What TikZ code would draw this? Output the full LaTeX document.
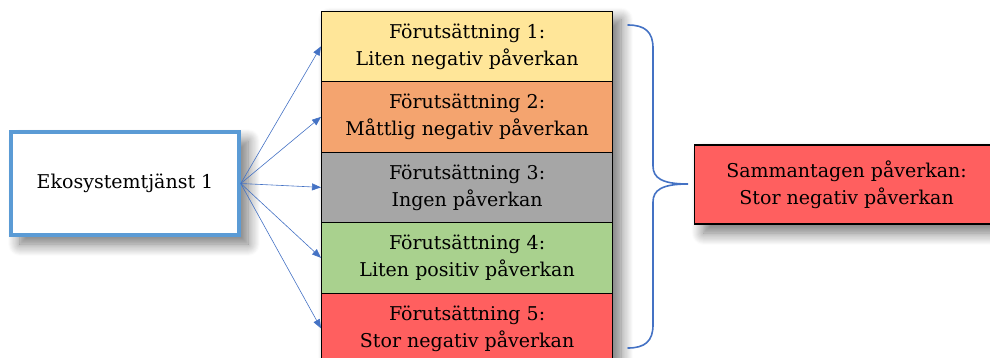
\documentclass[tikz,border=0pt]{standalone}
\usepackage{fontspec}
\setmainfont{DejaVu Serif}
\usetikzlibrary{arrows.meta,shadows.blur}
\definecolor{cyel}{HTML}{FFE699}
\definecolor{corg}{HTML}{F4A46F}
\definecolor{cgry}{HTML}{A6A6A6}
\definecolor{cgrn}{HTML}{A9D18E}
\definecolor{cred}{HTML}{FF5F5F}
\definecolor{cblue}{HTML}{5B9BD5}
\definecolor{carrow}{HTML}{4472C4}
\tikzset{
  x=1pt, y=-1pt,
  txt/.style={font=\fontsize{19}{27}\selectfont},
  softshadow/.style={blur shadow={shadow xshift=9pt, shadow yshift=-9pt, shadow blur radius=12pt, shadow blur steps=12, shadow opacity=55}},
  rowbox/.style={draw=black, line width=1.2pt, minimum width=291pt, minimum height=70.5pt, inner sep=0pt, align=center, anchor=north west, txt},
  conn/.style={draw=carrow, line width=0.6pt, -{Triangle[length=9pt,width=7pt]}},
}
\begin{document}
\begin{tikzpicture}
\useasboundingbox (0,0) rectangle (990,357);
\clip (0,0) rectangle (990,357);
% source box
\node[draw=cblue, line width=3.5pt, fill=white, minimum width=228pt, minimum height=103pt, softshadow, txt] (eko) at (125,183.5) {Ekosystemtjänst 1};
% stack shadow
\fill[white, softshadow] (321,10.5) rectangle (612,363);
\node[rowbox, fill=cyel] (f1) at (321,10.5) {Förutsättning 1:\\Liten negativ påverkan};
\node[rowbox, fill=corg] (f2) at (321,81) {Förutsättning 2:\\Måttlig negativ påverkan};
\node[rowbox, fill=cgry] (f3) at (321,151.5) {Förutsättning 3:\\Ingen påverkan};
\node[rowbox, fill=cgrn] (f4) at (321,222) {Förutsättning 4:\\Liten positiv påverkan};
\node[rowbox, fill=cred] (f5) at (321,292.5) {Förutsättning 5:\\Stor negativ påverkan};
% arrows
\foreach \i in {1,...,5} {
  \draw[conn] (eko.east) -- (f\i.west);
}
% brace
\coordinate (btop) at (628,25);
\coordinate (btip) at (688,184);
\coordinate (bbot) at (628,348);
\draw[draw=carrow, line width=1.6pt, line cap=round]
  (btop) .. controls (645,25) and (653,32) .. (653,48) -- (653,166)
  .. controls (653,178) and (662,184) .. (btip)
  .. controls (662,184) and (653,190) .. (653,202) -- (653,325)
  .. controls (653,341) and (645,348) .. (bbot);
% result box
\node[draw=black, line width=1.2pt, fill=cred, minimum width=304pt, minimum height=79pt, anchor=west, softshadow, align=center, txt] (sum) at (694,184.5) {Sammantagen påverkan:\\Stor negativ påverkan};
\end{tikzpicture}
\end{document}
